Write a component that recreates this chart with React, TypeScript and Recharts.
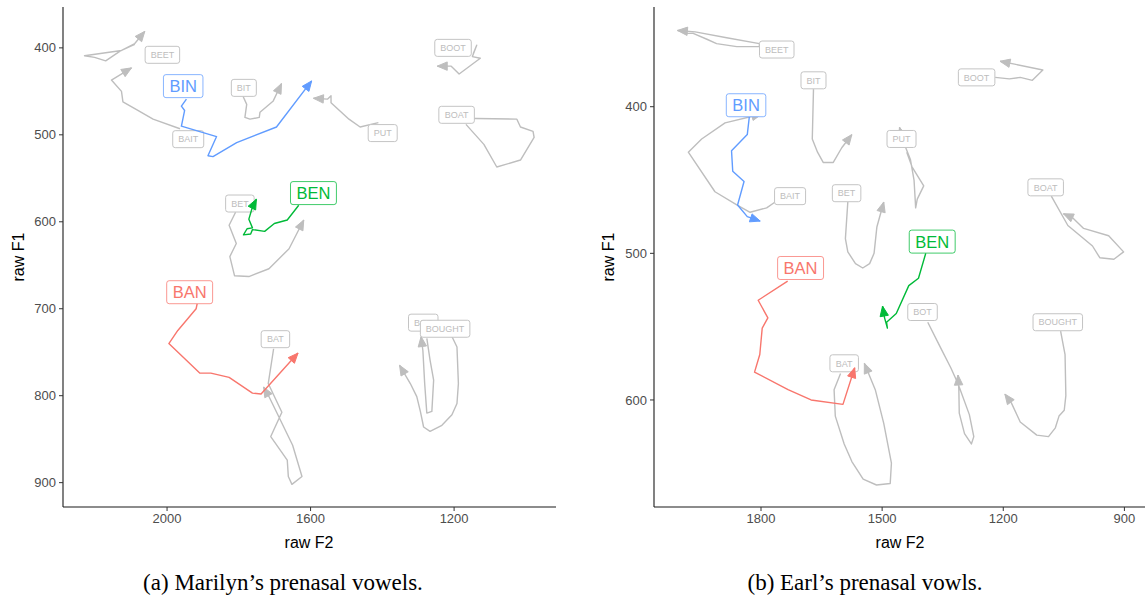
import { ScatterChart, Scatter, XAxis, YAxis } from 'recharts'

type Pair = [number, number]

// (a) Marilyn - trajectories as [F2, F1]
const aBeet: Pair[] = [[2090, 396], [2127, 403], [2230, 409], [2202, 411], [2171, 415], [2132, 404], [2090, 395], [2062, 381]]
const aBait: Pair[] = [[1964, 493], [2039, 482], [2085, 471], [2123, 462], [2127, 450], [2155, 437], [2099, 423]]
const aBit: Pair[] = [[1788, 456], [1778, 465], [1783, 480], [1769, 482], [1743, 480], [1741, 474], [1704, 461], [1681, 441]]
const aPut: Pair[] = [[1411, 486], [1462, 491], [1493, 482], [1543, 463], [1543, 455], [1553, 459], [1592, 458]]
const aBoot: Pair[] = [[1147, 407], [1137, 397], [1149, 410], [1127, 412], [1186, 430], [1208, 421], [1247, 421]]
const aBoat: Pair[] = [[1167, 488], [1117, 511], [1081, 537], [1015, 529], [977, 503], [980, 496], [1015, 491], [1025, 482], [1185, 481]]
const aBet: Pair[] = [[1809, 589], [1827, 604], [1807, 625], [1825, 640], [1812, 662], [1772, 663], [1716, 654], [1660, 631], [1619, 598]]
const aBat: Pair[] = [[1703, 746], [1718, 786], [1680, 819], [1711, 847], [1665, 874], [1662, 893], [1652, 902], [1624, 893], [1650, 857], [1716, 801], [1731, 790]]
const aBot: Pair[] = [[1276, 734], [1267, 759], [1257, 782], [1262, 818], [1276, 820], [1282, 786], [1287, 748], [1292, 732]]
const aBought: Pair[] = [[1206, 732], [1192, 744], [1188, 786], [1192, 809], [1206, 822], [1234, 834], [1267, 841], [1285, 836], [1294, 818], [1304, 801], [1322, 786], [1352, 765]]
const aBin: Pair[] = [[1946, 459], [1960, 467], [1951, 472], [1960, 490], [1862, 502], [1886, 524], [1872, 525], [1806, 509], [1695, 491], [1597, 438]]
const aBen: Pair[] = [[1633, 581], [1665, 598], [1701, 602], [1728, 611], [1762, 609], [1767, 614], [1787, 615], [1777, 608], [1762, 607], [1772, 597], [1762, 583], [1751, 574]]
const aBan: Pair[] = [[1916, 694], [1919, 700], [1970, 725], [1995, 740], [1909, 774], [1878, 774], [1827, 779], [1762, 797], [1738, 798], [1635, 751]]

const aLabels: [string, number, number][] = [
  ['BEET', 2013, 408], ['BAIT', 1941, 505], ['BIT', 1786, 446], ['PUT', 1399, 498],
  ['BOOT', 1203, 400], ['BOAT', 1193, 477], ['BET', 1797, 579], ['BAT', 1698, 735],
  ['BOT', 1286, 716], ['BOUGHT', 1225, 723], ['BIN', 1955, 444], ['BEN', 1592, 567], ['BAN', 1937, 681],
]

// (b) Earl
const bBeet: Pair[] = [[1988, 350], [1968, 350], [1934, 354], [1910, 357], [1860, 359], [1804, 359], [1804, 357], [1885, 353], [1963, 349], [2007, 348]]
const bBait: Pair[] = [[1765, 465], [1786, 469], [1827, 472], [1860, 467], [1914, 458], [1980, 431], [1947, 422], [1889, 411], [1798, 405]]
const bBit: Pair[] = [[1670, 388], [1673, 422], [1660, 431], [1646, 438], [1621, 438], [1600, 428], [1575, 419]]
const bBet: Pair[] = [[1585, 465], [1591, 490], [1585, 499], [1566, 507], [1548, 510], [1531, 507], [1520, 500], [1513, 482], [1496, 465]]
const bPut: Pair[] = [[1439, 431], [1426, 441], [1397, 454], [1413, 463], [1417, 469], [1418, 464], [1421, 450], [1430, 436], [1443, 427], [1457, 414]]
const bBoot: Pair[] = [[1220, 380], [1185, 381], [1158, 380], [1128, 382], [1102, 375], [1172, 371], [1208, 369]]
const bBoat: Pair[] = [[1081, 461], [1040, 481], [1005, 489], [979, 495], [961, 503], [926, 504], [902, 499], [939, 488], [1001, 483], [1027, 476], [1051, 473]]
const bBat: Pair[] = [[1603, 582], [1619, 593], [1616, 611], [1594, 630], [1575, 642], [1547, 654], [1514, 658], [1480, 657], [1477, 643], [1496, 616], [1517, 593], [1544, 575]]
const bBot: Pair[] = [[1387, 547], [1356, 564], [1330, 578], [1312, 589], [1284, 610], [1273, 625], [1279, 630], [1296, 623], [1309, 609], [1310, 593], [1312, 583]]
const bBought: Pair[] = [[1058, 553], [1047, 569], [1045, 597], [1049, 607], [1062, 611], [1071, 619], [1088, 625], [1117, 624], [1158, 615], [1180, 602], [1196, 596]]
const bBin: Pair[] = [[1829, 407], [1834, 419], [1873, 430], [1870, 444], [1842, 451], [1858, 467], [1834, 475], [1802, 478]]
const bBen: Pair[] = [[1392, 500], [1410, 517], [1434, 522], [1465, 541], [1489, 547], [1487, 551], [1494, 544], [1499, 536]]
const bBan: Pair[] = [[1734, 519], [1807, 532], [1783, 544], [1797, 551], [1803, 569], [1816, 581], [1733, 593], [1676, 600], [1597, 603], [1568, 578]]

const bLabels: [string, number, number][] = [
  ['BEET', 1761, 361], ['BIT', 1670, 382], ['BAIT', 1728, 461], ['BET', 1588, 459],
  ['PUT', 1452, 422], ['BOOT', 1266, 380], ['BOAT', 1095, 455], ['BAT', 1594, 575],
  ['BOT', 1400, 540], ['BOUGHT', 1065, 547], ['BIN', 1837, 399], ['BEN', 1376, 492], ['BAN', 1702, 510],
]

const aTicksX = [1200, 1600, 2000]
const aTicksY = [400, 500, 600, 700, 800, 900]
const bTicksX = [900, 1200, 1500, 1800]
const bTicksY = [400, 500, 600]

const tint: Record<string, string> = { BIN: '#619CFF', BEN: '#00BA38', BAN: '#F8766D' }
const GRAY = '#BEBEBE'
const FONT = '"Liberation Sans", Arial, sans-serif'

const capW: Record<string, number> = {
  A: 0.667, B: 0.667, E: 0.667, G: 0.778, H: 0.722, I: 0.278, N: 0.722, O: 0.778, P: 0.667, T: 0.611, U: 0.722,
}

const toPts = (arr: Pair[]) => arr.map(([f2, f1]) => ({ f2, f1 }))

const trail = (color: string) => (props: any) => {
  const pts = props.points as { x: number; y: number }[]
  if (!pts || pts.length < 2) return <g />
  const d = pts.map((q, i) => `${i ? 'L' : 'M'}${q.x},${q.y}`).join(' ')
  const a = pts[pts.length - 2]
  const b = pts[pts.length - 1]
  const ang = Math.atan2(b.y - a.y, b.x - a.x)
  const L = 10
  const W = 4.2
  const bx = b.x - L * Math.cos(ang)
  const by = b.y - L * Math.sin(ang)
  const nx = -Math.sin(ang) * W
  const ny = Math.cos(ang) * W
  return (
    <g>
      <path d={d} fill="none" stroke={color} strokeWidth={1.4} strokeLinejoin="round" />
      <polygon
        points={`${b.x},${b.y} ${bx + nx},${by + ny} ${bx - nx},${by - ny}`}
        fill={color}
        stroke={color}
        strokeWidth={1}
      />
    </g>
  )
}

const tag = (props: any) => {
  const { cx, cy, payload } = props
  const name: string = payload.name
  const c = tint[name]
  const fs = c ? 16.5 : 9
  const padX = c ? 6 : 5.5
  const h = c ? 23 : 17
  const tw = name.split('').reduce((s, ch) => s + (capW[ch] ?? 0.667), 0) * fs
  const w = tw + padX * 2
  return (
    <g>
      <rect
        x={cx - w / 2}
        y={cy - h / 2}
        width={w}
        height={h}
        rx={2.5}
        fill="#fff"
        stroke={c ?? '#C4C4C4'}
        strokeOpacity={c ? 0.75 : 1}
        strokeWidth={1}
      />
      <text
        x={cx}
        y={cy}
        dy="0.36em"
        textAnchor="middle"
        fontSize={fs}
        fontFamily={FONT}
        fill={c ?? '#BDBDBD'}
      >
        {name}
      </text>
    </g>
  )
}

const none = () => <g />

interface PanelProps {
  gray: Pair[][]
  colored: [string, Pair[]][]
  labels: [string, number, number][]
  xDomain: [number, number]
  yDomain: [number, number]
  xTicks: number[]
  yTicks: number[]
  width: number
  left: number
  marginLeft: number
  marginRight: number
}

function Panel(p: PanelProps) {
  const grayLabels = p.labels.filter((l) => !tint[l[0]]).map(([name, f2, f1]) => ({ name, f2, f1 }))
  const colorLabels = p.labels.filter((l) => tint[l[0]]).map(([name, f2, f1]) => ({ name, f2, f1 }))
  return (
    <div style={{ position: 'absolute', left: p.left, top: 0 }}>
      <ScatterChart
        width={p.width}
        height={560}
        margin={{ top: 7, right: p.marginRight, bottom: 15, left: p.marginLeft }}
      >
        <XAxis
          type="number"
          dataKey="f2"
          domain={p.xDomain}
          ticks={p.xTicks}
          reversed
          allowDataOverflow
          height={38}
          tickSize={4}
          tickMargin={3}
          axisLine={{ stroke: '#1a1a1a', strokeWidth: 1.1 }}
          tickLine={{ stroke: '#333' }}
          tick={{ fill: '#4d4d4d', fontSize: 13, fontFamily: FONT }}
        />
        <YAxis
          type="number"
          dataKey="f1"
          domain={p.yDomain}
          ticks={p.yTicks}
          reversed
          allowDataOverflow
          width={45}
          tickSize={4}
          tickMargin={3}
          axisLine={{ stroke: '#1a1a1a', strokeWidth: 1.1 }}
          tickLine={{ stroke: '#333' }}
          tick={{ fill: '#4d4d4d', fontSize: 13, fontFamily: FONT }}
        />
        {p.gray.map((t, i) => (
          <Scatter
            key={`g${i}`}
            data={toPts(t)}
            line={trail(GRAY)}
            shape={none}
            isAnimationActive={false}
          />
        ))}
        <Scatter data={grayLabels} shape={tag} isAnimationActive={false} />
        {p.colored.map(([name, t]) => (
          <Scatter
            key={name}
            data={toPts(t)}
            line={trail(tint[name])}
            shape={none}
            isAnimationActive={false}
          />
        ))}
        <Scatter data={colorLabels} shape={tag} isAnimationActive={false} />
      </ScatterChart>
    </div>
  )
}

export default function App() {
  return (
    <div style={{ position: 'absolute', left: 0, top: 0, width: 1145, height: 606, background: '#fff' }}>
      <Panel
        gray={[aBeet, aBait, aBit, aPut, aBoot, aBoat, aBet, aBat, aBot, aBought]}
        colored={[['BIN', aBin], ['BEN', aBen], ['BAN', aBan]]}
        labels={aLabels}
        xDomain={[916, 2290]}
        yDomain={[353, 928]}
        xTicks={aTicksX}
        yTicks={aTicksY}
        width={570}
        left={0}
        marginLeft={18}
        marginRight={14}
      />
      <Panel
        gray={[bBeet, bBait, bBit, bBet, bPut, bBoot, bBoat, bBat, bBot, bBought]}
        colored={[['BIN', bBin], ['BEN', bBen], ['BAN', bBan]]}
        labels={bLabels}
        xDomain={[849, 2065]}
        yDomain={[332, 673]}
        xTicks={bTicksX}
        yTicks={bTicksY}
        width={565}
        left={580}
        marginLeft={29}
        marginRight={0}
      />
      <svg
        width={1145}
        height={606}
        style={{ position: 'absolute', left: 0, top: 0, pointerEvents: 'none' }}
      >
        <g fontFamily={FONT} fontSize={16} fill="#000" textAnchor="middle">
          <text x={309} y={548}>raw F2</text>
          <text x={900} y={548}>raw F2</text>
          <text transform="translate(24,257) rotate(-90)">raw F1</text>
          <text transform="translate(614,257) rotate(-90)">raw F1</text>
        </g>
        <g fontFamily='"Liberation Serif", "Times New Roman", serif' fontSize={23} fill="#000" textAnchor="middle">
          <text x={283} y={590}>(a) Marilyn’s prenasal vowels.</text>
          <text x={865} y={590}>(b) Earl’s prenasal vowls.</text>
        </g>
      </svg>
    </div>
  )
}
